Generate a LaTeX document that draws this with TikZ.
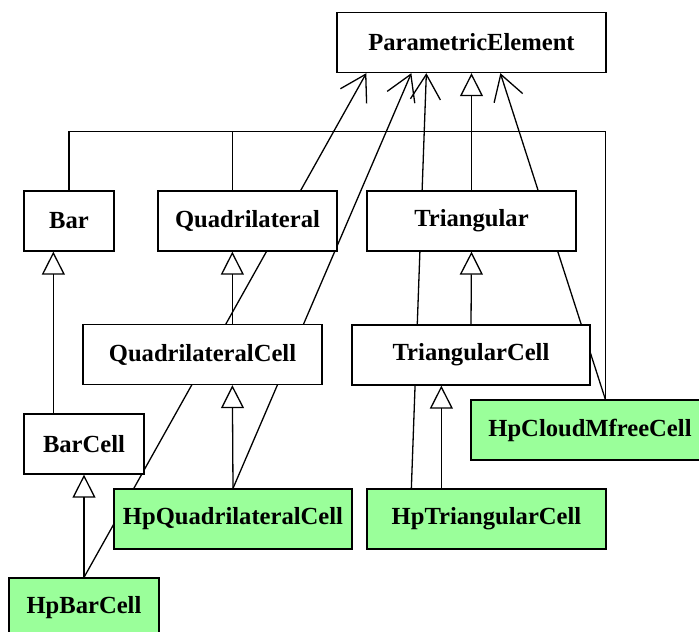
\documentclass[tikz,border=0pt]{standalone}
\usepackage{fontspec}
\setmainfont{Liberation Serif}
\usetikzlibrary{arrows.meta,calc}
\pgfdeclarelayer{edges}
\pgfsetlayers{edges,main}
\definecolor{hpgreen}{HTML}{9AFF9A}
\tikzset{
  cls/.style={draw=black, fill=white, line width=1.3pt, rectangle, inner sep=0pt,
    minimum height=60pt, font=\fontsize{24.6}{30}\selectfont\bfseries},
  hpcls/.style={cls, fill=hpgreen},
  edge/.style={line width=1.3pt, draw=black},
  uses/.style={edge, -{Straight Barb[length=25pt,width=30pt]}},
  isa/.style={edge, -{Triangle[open,length=23pt,width=23pt]}},
}
\begin{document}
\begin{tikzpicture}[x=1pt, y=-1pt]
\useasboundingbox (0,0) rectangle (699,632);

% class boxes
\node[cls, minimum width=269pt] (pe)   at (471.5,42.5) {ParametricElement};
\node[cls, minimum width=90pt]  (bar)  at (69,221)     {Bar};
\node[cls, minimum width=179pt] (quad) at (247.5,221)  {Quadrilateral};
\node[cls, minimum width=209pt] (tri)  at (471.5,221)  {Triangular};
\node[cls, minimum width=239pt] (qcell) at (202.5,354.5) {QuadrilateralCell};
\node[cls, minimum width=238pt] (tcell) at (471,355)   {TriangularCell};
\node[cls, minimum width=120pt] (barcell) at (84,444)  {BarCell};
\node[hpcls, minimum width=238pt] (hpq)  at (233,519)   {HpQuadrilateralCell};
\node[hpcls, minimum width=239pt] (hpt)  at (486.5,519) {HpTriangularCell};
\node[hpcls, minimum width=238pt] (hpc)  at (590,430)   {HpCloudMfreeCell};
\node[hpcls, minimum width=150pt] (hpbar) at (84,608)   {HpBarCell};

\begin{pgfonlayer}{edges}
  % usage links into ParametricElement
  \draw[uses] (hpbar.north) -- ($(pe.south west)+(30,0)$);
  \draw[uses] (hpq.north) -- ($(pe.south west)+(75,0)$);
  \draw[uses] ($(hpt.north west)+(45,0)$) -- ($(pe.south west)+(90,0)$);
  \draw[uses] ($(hpc.north west)+(135,0)$) -- ($(pe.south west)+(164,0)$);
  % shared bus across the top
  \draw[edge] (bar.north) -- ++(0,-59) -| ($(hpc.north west)+(135,0)$);
  \draw[edge] ($(quad.north west)+(75,0)$) -- ++(0,-59);
  % inheritance
  \draw[isa] (tri.north) -- (pe.south);
  \draw[isa] ($(barcell.north west)+(30,0)$) -- ($(bar.south west)+(30,0)$);
  \draw[isa] (hpbar.north) -- (barcell.south);
  \draw[isa] ($(qcell.north west)+(150,0)$) -- ($(quad.south west)+(75,0)$);
  \draw[isa] (hpq.north) -- ($(qcell.south west)+(150,0)$);
  \draw[isa] (tcell.north) -- (tri.south);
  \draw[isa] ($(hpt.north west)+(75,0)$) -- ($(tcell.south west)+(90,0)$);
\end{pgfonlayer}
\end{tikzpicture}
\end{document}
